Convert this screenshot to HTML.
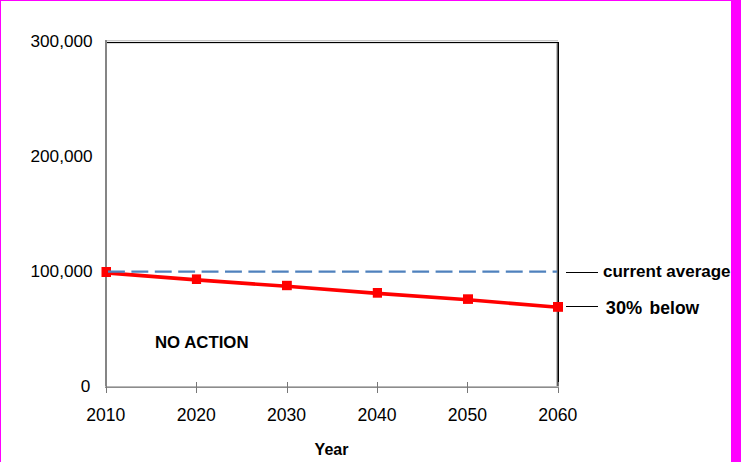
<!DOCTYPE html>
<html><head><meta charset="utf-8">
<style>
html,body{margin:0;padding:0;background:#fff;}
body{width:741px;height:462px;overflow:hidden;position:relative;}
svg{position:absolute;left:0;top:0;}
text{font-family:"Liberation Sans",sans-serif;fill:#000;}
</style></head><body>
<svg width="741" height="462" viewBox="0 0 741 462" shape-rendering="auto">
<rect x="0" y="0" width="741" height="462" fill="#fff"/>
<!-- magenta borders -->
<rect x="0" y="0" width="741" height="1" fill="#ff00ff"/>
<rect x="0" y="0" width="1" height="462" fill="#ff00ff"/>
<rect x="731" y="0" width="10" height="462" fill="#ff00ff"/>
<!-- plot frame -->
<rect x="105" y="40" width="453" height="1" fill="#c8c8c8"/>
<rect x="107" y="41" width="451" height="1" fill="#ececec"/>
<rect x="106" y="42" width="453" height="1" fill="#000"/>
<rect x="106" y="43" width="452" height="1" fill="#bbb" opacity="0.5"/>
<rect x="556" y="43" width="1" height="343" fill="#c0c0c0"/>
<rect x="557" y="43" width="1" height="343" fill="#606060"/>
<rect x="558" y="42" width="1" height="340" fill="#000"/>
<rect x="558" y="382" width="1" height="11" fill="#777"/>
<rect x="105" y="40" width="2" height="347" fill="#858585"/>
<rect x="105" y="386" width="454" height="1" fill="#b8b8b8"/>
<rect x="105" y="387" width="454" height="1" fill="#8c8c8c"/>
<!-- ticks -->
<g fill="#777">
<rect x="106" y="386" width="1" height="7"/>
<rect x="196" y="382" width="1" height="11"/>
<rect x="287" y="382" width="1" height="11"/>
<rect x="377" y="382" width="1" height="11"/>
<rect x="467" y="382" width="1" height="11"/>
</g>
<!-- red series -->
<polyline points="106.2,272.9 196.5,279.9 286.9,286.3 377.4,293.4 468,299.8 558,307.2" fill="none" stroke="#ff0000" stroke-width="3.6"/>
<g fill="#ff0000">
<rect x="101.5" y="267" width="9.5" height="10"/>
<rect x="191.9" y="274.4" width="9.2" height="9.6"/>
<rect x="282" y="280.8" width="9.8" height="9.4"/>
<rect x="372.8" y="288" width="9.2" height="9.7"/>
<rect x="463" y="294.3" width="10" height="9.6"/>
<rect x="553" y="302" width="10" height="9.8"/>
</g>
<!-- dashed average -->
<line x1="108" y1="271.6" x2="557" y2="271.6" stroke="#4f81bd" stroke-width="2.4" stroke-dasharray="16.9 6.5"/>
<!-- legend lines -->
<rect x="566" y="272" width="32" height="1" fill="#000"/>
<rect x="566" y="306" width="32" height="1" fill="#000"/>
<!-- y labels -->
<g font-size="17.2" text-anchor="end">
<text x="92.6" y="46.6">300,000</text>
<text x="92.6" y="161.6">200,000</text>
<text x="92.6" y="277.1">100,000</text>
<text x="90.2" y="391.6">0</text>
</g>
<!-- x labels -->
<g font-size="17.6" text-anchor="middle">
<text x="105.8" y="420.5">2010</text>
<text x="196.2" y="420.5">2020</text>
<text x="286.6" y="420.5">2030</text>
<text x="377" y="420.5">2040</text>
<text x="467.4" y="420.5">2050</text>
<text x="557.8" y="420.5">2060</text>
</g>
<text x="314.6" y="454.9" font-size="16" font-weight="bold">Year</text>
<text x="155" y="347.9" font-size="16.8" font-weight="bold">NO ACTION</text>
<text x="603" y="276.9" font-size="17" font-weight="bold">current average</text>
<text x="605.8" y="313.8" font-size="18.2" font-weight="bold">30%</text>
<text x="649.6" y="313.6" font-size="17.5" font-weight="bold">below</text>
</svg>
</body></html>
